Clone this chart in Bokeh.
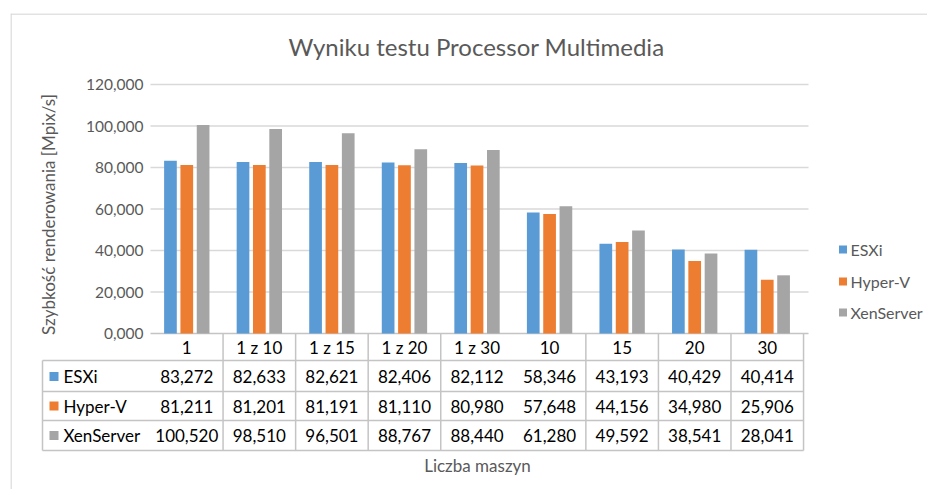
import numpy as np
from bokeh.plotting import figure
from bokeh.models import ColumnDataSource, Span, Range1d
from bokeh.core.properties import value
from bokeh.embed import file_html
from bokeh.resources import INLINE

# ---------------- data ----------------
categories = ["1", "1 z 10", "1 z 15", "1 z 20", "1 z 30", "10", "15", "20", "30"]
series_names = ["ESXi", "Hyper-V", "XenServer"]
esxi = [83.272, 82.633, 82.621, 82.406, 82.112, 58.346, 43.193, 40.429, 40.414]
hyperv = [81.211, 81.201, 81.191, 81.110, 80.980, 57.648, 44.156, 34.980, 25.906]
xenserver = [100.520, 98.510, 96.501, 88.767, 88.440, 61.280, 49.592, 38.541, 28.041]
y_ticks = [0, 20, 40, 60, 80, 100, 120]
colors = ["#5B9BD5", "#ED7D31", "#A5A5A5"]
series = [esxi, hyperv, xenserver]

title = "Wyniku testu Processor Multimedia"
x_title = "Liczba maszyn"
y_title = "Szybkość renderowania [Mpix/s]"

def fmt(v):
    return f"{v:.3f}".replace(".", ",")

FONT = "Lato"
GRAY = "#595959"
LINE = "#c4c4c4"

# ---------------- layout helpers (page pixel -> data) ----------------
CAT_PX = 72.56          # pixels per category
X0 = 150.0              # page x of category 0 edge
Y0 = 333.0              # page y of value 0
Y_PX = 249.0 / 120.0    # pixels per unit

def xd(px):
    return (px - X0) / CAT_PX

def yd(py):
    return (Y0 - py) / Y_PX

W, H = 927, 489
p = figure(width=W, height=H, output_backend="svg", toolbar_location=None,
           x_range=Range1d(xd(10), xd(W)), y_range=Range1d(yd(H), yd(13)),
           min_border_left=10, min_border_top=13, min_border_right=0, min_border_bottom=0)
p.xaxis.visible = False
p.yaxis.visible = False
p.xgrid.visible = False
p.ygrid.visible = False
p.outline_line_color = None
p.background_fill_color = "white"
p.border_fill_color = "white"

# chart frame border (top + left)
p.add_layout(Span(location=yd(13.5), dimension="width", line_color="#d9d9d9", line_width=1.5))
p.add_layout(Span(location=xd(10.5), dimension="height", line_color="#d9d9d9", line_width=1.5))

n = len(categories)
plot_right = xd(808)

# gridlines
p.segment(x0=[0] * (len(y_ticks) - 1), x1=[plot_right] * (len(y_ticks) - 1),
          y0=y_ticks[1:], y1=y_ticks[1:], line_color="#d9d9d9", line_width=1.5)
p.segment(x0=[0], x1=[plot_right], y0=[0], y1=[0], line_color=LINE, line_width=1.5)

# tick labels
p.text(x=[xd(143)] * len(y_ticks), y=y_ticks, text=[fmt(t) for t in y_ticks],
       text_align="right", text_baseline="middle", text_color=GRAY,
       text_font=value(FONT), text_font_size="15.5px")

# bars
offsets = [-0.225, 0.0, 0.225]
bar_w = 0.175
centers = np.arange(n) + 0.5
for name, vals, col, off in zip(series_names, series, colors, offsets):
    src = ColumnDataSource(dict(x=centers + off, top=vals))
    p.vbar(x="x", top="top", bottom=0, width=bar_w, source=src,
           fill_color=col, line_color=None)

# ---------------- data table ----------------
row_lines = [yd(360), yd(391), yd(420), yd(450)]
p.segment(x0=[xd(42)] * 4, x1=[n] * 4, y0=row_lines, y1=row_lines,
          line_color=LINE, line_width=1.5)
vx = [i for i in range(1, n + 1) if i != 5]
p.segment(x0=vx, x1=vx, y0=[0] * len(vx), y1=[row_lines[-1]] * len(vx),
          line_color=LINE, line_width=1.5)
p.segment(x0=[xd(42)], x1=[xd(42)], y0=[row_lines[0]], y1=[row_lines[-1]],
          line_color=LINE, line_width=1.5)

TFS = "17px"
# header
p.text(x=centers, y=[yd(347)] * n, text=categories, text_align="center",
       text_baseline="middle", text_color="#000000", text_font=value(FONT),
       text_font_size=TFS)

row_centers = [yd(376), yd(405.5), yd(435)]
for name, vals, col, yc in zip(series_names, series, colors, row_centers):
    p.text(x=centers, y=[yc] * n, text=[fmt(v) for v in vals], text_align="center",
           text_baseline="middle", text_color="#000000", text_font=value(FONT),
           text_font_size=TFS)
    p.rect(x=[xd(53.5)], y=[yc], width=9 / CAT_PX, height=9 / Y_PX,
           fill_color=col, line_color=None)
    p.text(x=[xd(63)], y=[yc], text=[name], text_align="left", text_baseline="middle",
           text_color="#000000", text_font=value(FONT), text_font_size=TFS)

# ---------------- legend (right) ----------------
leg_y = [yd(249), yd(281), yd(312)]
for name, col, yc in zip(series_names, colors, leg_y):
    p.rect(x=[xd(842.5)], y=[yc], width=8 / CAT_PX, height=8 / Y_PX,
           fill_color=col, line_color=None)
    p.text(x=[xd(850)], y=[yc], text=[name], text_align="left", text_baseline="middle",
           text_color=GRAY, text_font=value(FONT), text_font_size="16px")

# ---------------- titles ----------------
p.text(x=[xd(476)], y=[yd(46)], text=[title], text_align="center", text_baseline="middle",
       text_color=GRAY, text_font=value(FONT), text_font_size="24px")
p.text(x=[xd(477)], y=[yd(465)], text=[x_title], text_align="center", text_baseline="middle",
       text_color=GRAY, text_font=value(FONT), text_font_size="17px")
p.text(x=[xd(48)], y=[yd(214)], text=[y_title], text_align="center", text_baseline="middle",
       angle=np.pi / 2, text_color=GRAY, text_font=value(FONT), text_font_size="17px")

open("out.html", "w").write(file_html(p, INLINE))
